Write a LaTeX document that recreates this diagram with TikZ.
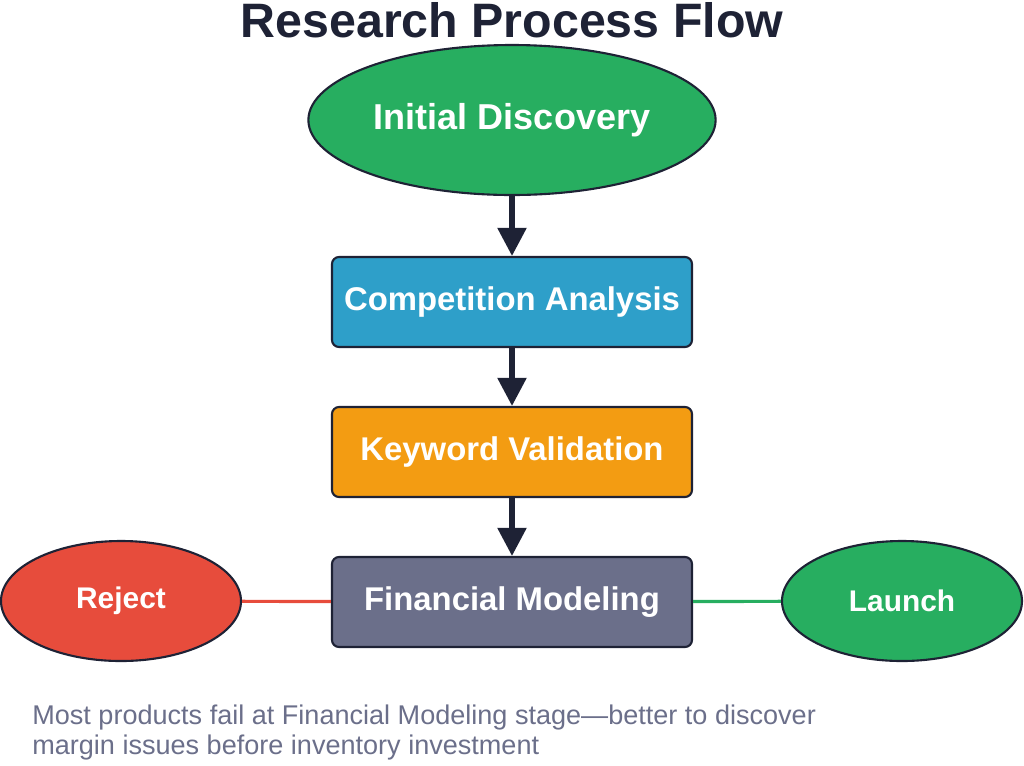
\documentclass[tikz,border=0pt]{standalone}
\usepackage{fontspec}
\setmainfont{Liberation Sans}
\usetikzlibrary{shapes.geometric,arrows.meta}
\definecolor{dk}{HTML}{1E2235}
\definecolor{gr}{HTML}{27AE60}
\definecolor{bl}{HTML}{2E9FC9}
\definecolor{orx}{HTML}{F39C12}
\definecolor{gy}{HTML}{6B6F8A}
\definecolor{rd}{HTML}{E74C3C}
\begin{document}
\begin{tikzpicture}[x=0.02cm,y=-0.02cm,
 box/.style={draw=dk,line width=1.2pt,rounded corners=4pt,minimum width=360*0.02cm,minimum height=90*0.02cm,text=white,font=\bfseries\fontsize{18.7}{22}\selectfont},
 ell/.style={ellipse,draw=dk,line width=1.2pt,text=white,font=\bfseries},
 arr/.style={draw=dk,line width=3pt,-{Triangle[length=16pt,width=16pt]}}]
\useasboundingbox (0,0) rectangle (1024,765);
\node[font=\bfseries\fontsize{27.5}{32}\selectfont,text=dk] (t) at (512,20) {Research Process Flow};
\node[ell,fill=gr,minimum width=360*0.02cm,minimum height=150*0.02cm,font=\bfseries\fontsize{20.5}{24}\selectfont] (a) at (512,120) {Initial Discovery};
\node[box,fill=bl] (b) at (512,302) {Competition Analysis};
\node[box,fill=orx] (c) at (512,452) {Keyword Validation};
\node[box,fill=gy] (d) at (512,602) {Financial Modeling};
\node[ell,fill=rd,minimum width=240*0.02cm,minimum height=120*0.02cm,font=\bfseries\fontsize{17}{20}\selectfont] (r) at (121,601) {Reject};
\node[ell,fill=gr,minimum width=240*0.02cm,minimum height=120*0.02cm,font=\bfseries\fontsize{17}{20}\selectfont] (l) at (902,601) {Launch};
\draw[arr] (a) -- (b);
\draw[arr] (b) -- (c);
\draw[arr] (c) -- (d);
\draw[rd,line width=1.8pt] (r) -- (d);
\draw[gr,line width=1.8pt] (d) -- (l);
\node[anchor=north west,text=gy,align=left,font=\fontsize{15.4}{17}\selectfont,inner sep=0pt] (n) at (32,705) {Most products fail at Financial Modeling stage—better to discover\\margin issues before inventory investment};
\end{tikzpicture}
\end{document}
